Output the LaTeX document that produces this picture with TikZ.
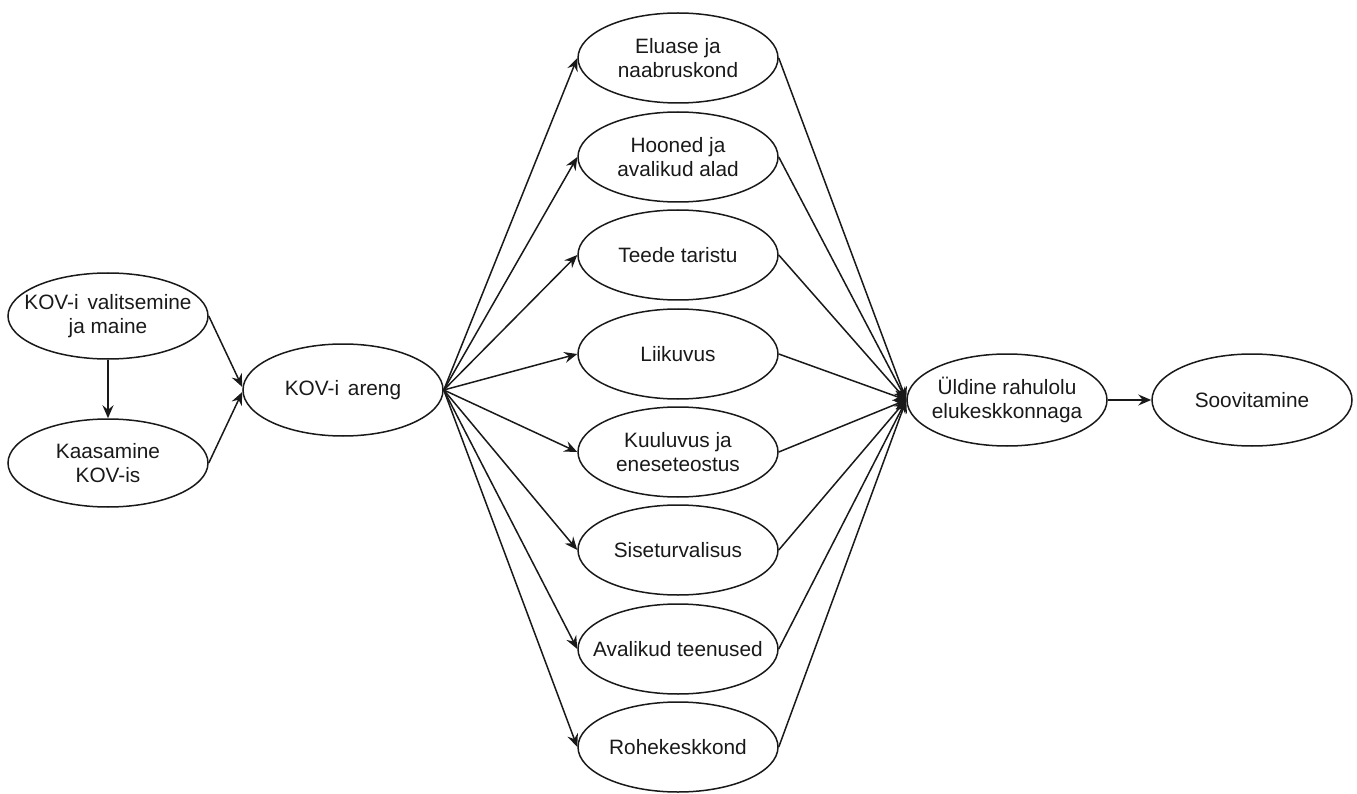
\documentclass[tikz,border=0pt]{standalone}
\usepackage{fontspec}
\setmainfont{Liberation Sans}
\usetikzlibrary{shapes.geometric,arrows.meta}
\begin{document}
\begin{tikzpicture}[x=1pt,y=-1pt,
  ell/.style={shape=ellipse,draw=black!90,line width=1.5pt,minimum width=200pt,minimum height=90pt,inner sep=0pt},
  txt/.style={align=center,font=\fontsize{20.8}{24}\selectfont,text=black!90},
  conn/.style={draw=black!90,line width=1.5pt,-{Stealth[length=13pt,width=11pt,inset=4.5pt]}}]
\useasboundingbox (0,0) rectangle (1357,794);
\node[ell,minimum height=86pt,label={[txt]center:KOV-i\hspace{3pt} valitsemine\\ja maine}] (v1) at (108,316) {};
\node[ell,minimum height=88pt,label={[txt]center:Kaasamine\\KOV-is}] (k2) at (108,463) {};
\node[ell,minimum height=92pt,label={[txt]center:KOV-i\hspace{3pt} areng}] (ar) at (343,390) {};
\node[ell,label={[txt]center:Eluase ja\\naabruskond}] (m1) at (678,58) {};
\node[ell,label={[txt]center:Hooned ja\\avalikud alad}] (m2) at (678,157) {};
\node[ell,label={[txt]center:Teede taristu}] (m3) at (678,255) {};
\node[ell,label={[txt]center:Liikuvus}] (m4) at (678,354) {};
\node[ell,label={[txt]center:Kuuluvus ja\\eneseteostus}] (m5) at (678,452) {};
\node[ell,label={[txt]center:Siseturvalisus}] (m6) at (678,550) {};
\node[ell,label={[txt]center:Avalikud teenused}] (m7) at (678,649) {};
\node[ell,label={[txt]center:Rohekeskkond}] (m8) at (678,747) {};
\node[ell,minimum height=92pt,label={[txt]center:Üldine rahulolu\\elukeskkonnaga}] (ul) at (1007,400) {};
\node[ell,minimum height=92pt,label={[txt]center:Soovitamine}] (so) at (1252,400) {};
\draw[conn] (v1.south) -- (k2.north);
\draw[conn] (v1.east) -- ([yshift=3pt]ar.west);
\draw[conn] (k2.east) -- ([yshift=-2pt]ar.west);
\foreach \m in {m1,m2,m3,m4,m5,m6,m7,m8}{
  \draw[conn] (ar.east) -- (\m.west);
  \draw[conn] (\m.east) -- (ul.west);
}
\draw[conn] (ul.east) -- (so.west);
\end{tikzpicture}
\end{document}
